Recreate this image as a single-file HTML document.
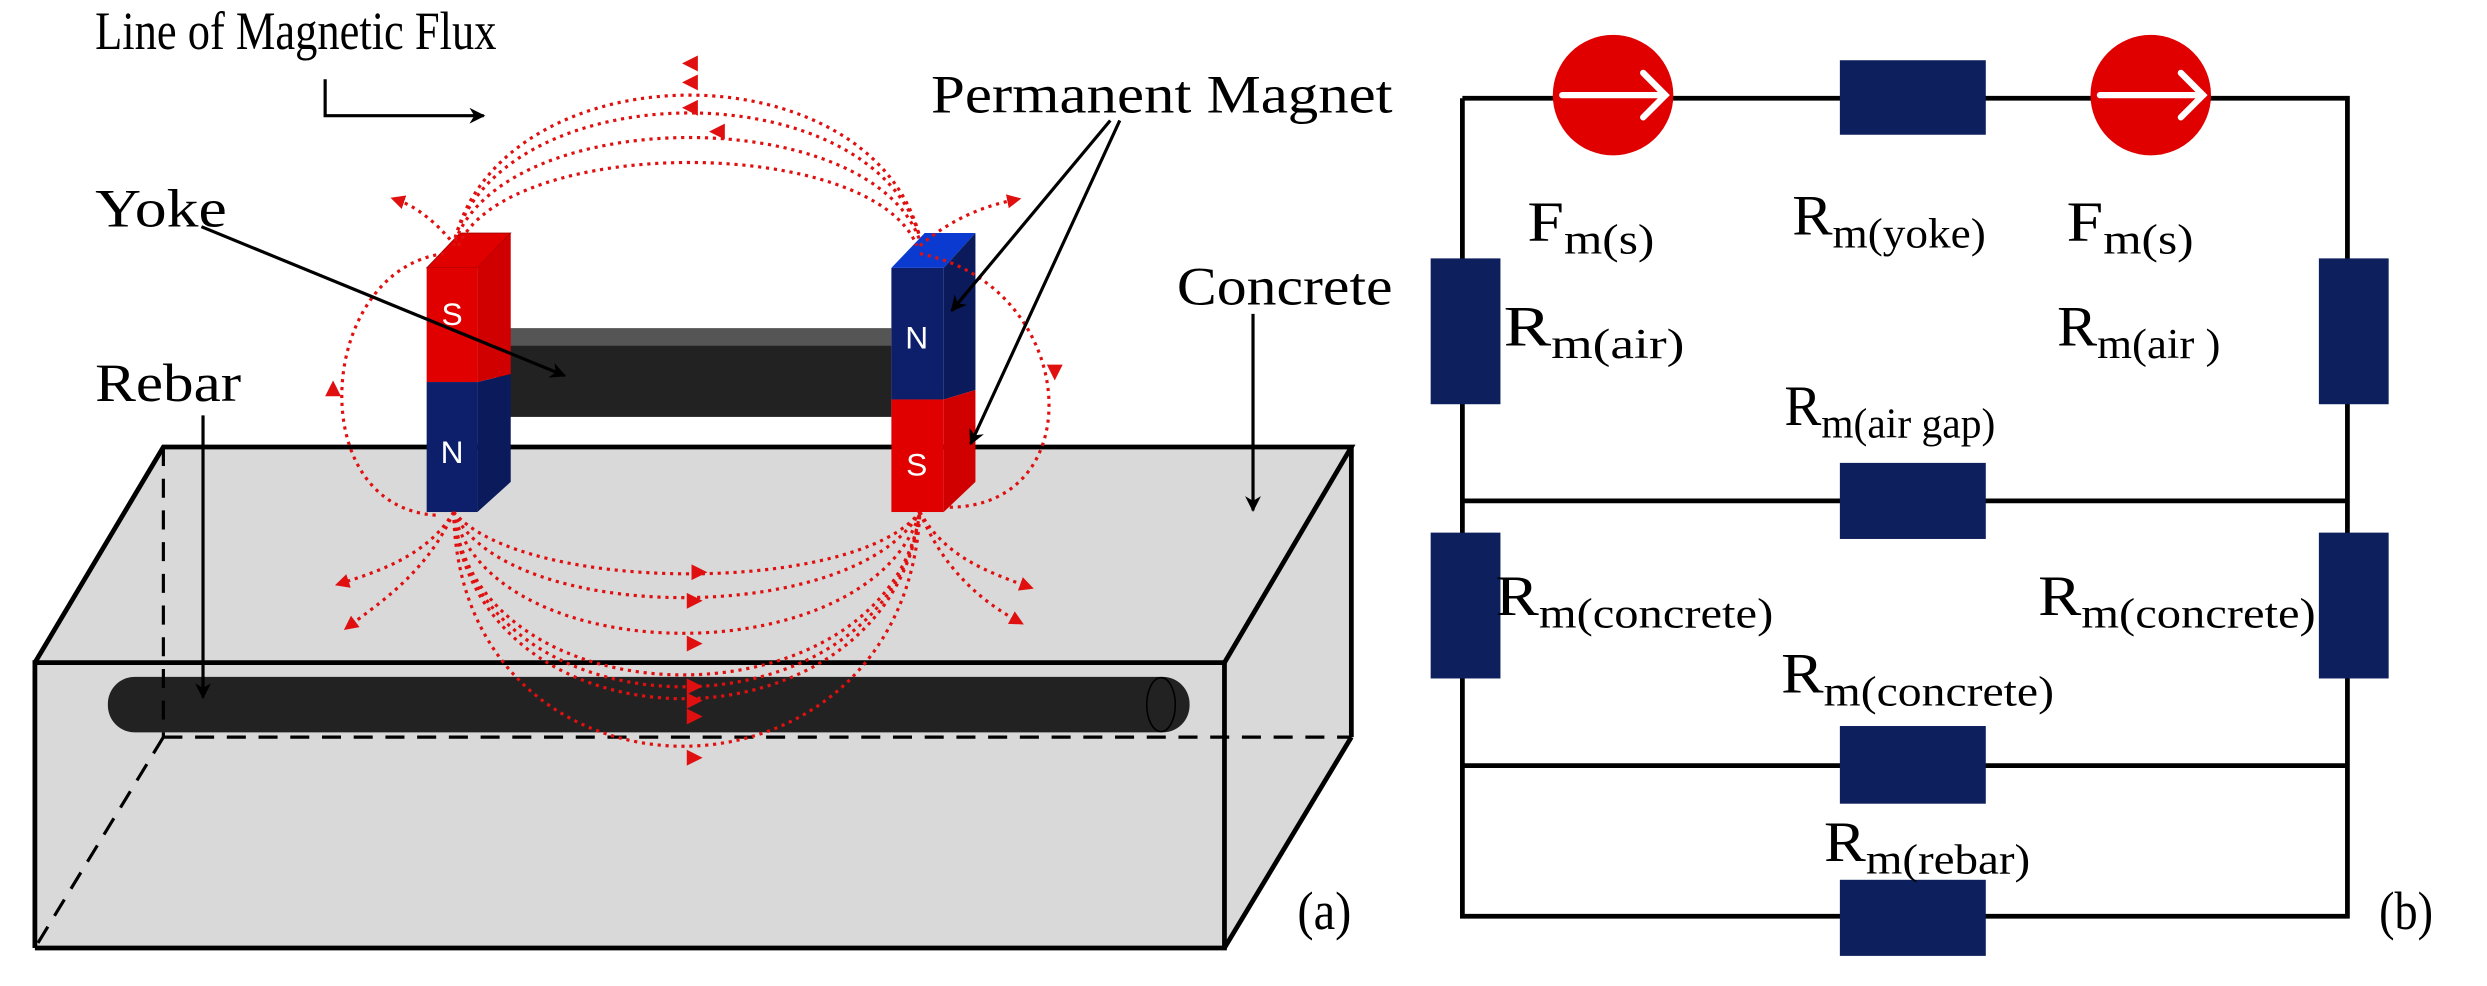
<!DOCTYPE html>
<html><head><meta charset="utf-8"><style>
html,body{margin:0;padding:0;background:#fff;}
svg{display:block;}
text{font-family:"Liberation Serif",serif;fill:#000;}
</style></head><body>
<svg width="2487" height="986" viewBox="0 0 1568 622" preserveAspectRatio="none" xmlns="http://www.w3.org/2000/svg">
<defs>
<marker id="ab" markerWidth="10" markerHeight="10" refX="9" refY="5" orient="auto" markerUnits="userSpaceOnUse"><path d="M0,0 L10,5 L0,10 L3,5 z" fill="#000"/></marker>
<marker id="ar" markerWidth="9" markerHeight="9" refX="5" refY="4.5" orient="auto" markerUnits="userSpaceOnUse"><path d="M0,0 L9,4.5 L0,9 z" fill="#e01010"/></marker>
</defs>
<!-- concrete box -->
<polygon points="22,418 103,282 852,282 852,465 772,598 22,598" fill="#d9d9d9"/>
<g stroke="#000" stroke-width="3" fill="none">
<polyline points="22,598 22,418 772,418 772,598 22,598"/>
<polyline points="22,418 103,282 852,282 772,418"/>
<line x1="852" y1="282" x2="852" y2="465"/>
<line x1="852" y1="465" x2="772" y2="598"/>
</g>
<!-- rebar -->
<rect x="68" y="427" width="682" height="35" rx="17" fill="#222"/>
<ellipse cx="732" cy="444.5" rx="9" ry="17" fill="none" stroke="#000" stroke-width="1"/>
<g stroke="#000" stroke-width="2" stroke-dasharray="12,8" fill="none">
<line x1="103" y1="282" x2="103" y2="465"/>
<line x1="103" y1="465" x2="852" y2="465"/>
<line x1="103" y1="465" x2="22" y2="598"/>
</g>
<!-- yoke -->
<polygon points="313,218 322,207 562,207 562,218" fill="#555"/>
<rect x="313" y="218" width="249" height="45" fill="#222"/>
<!-- left magnet -->
<polygon points="269,169 290,147 322,147 301,169" fill="#e00000" stroke="#900" stroke-width="0.5"/>
<polygon points="301,169 322,147 322,236 301,241" fill="#d00000"/>
<polygon points="301,241 322,236 322,304 301,323" fill="#0a1a5a"/>
<rect x="269" y="169" width="32" height="72" fill="#e00000"/>
<rect x="269" y="241" width="32" height="82" fill="#0d1f6a"/>
<text x="285" y="205" font-size="20" text-anchor="middle" style="fill:#fff;font-family:'Liberation Sans',sans-serif">S</text>
<text x="285" y="292" font-size="20" text-anchor="middle" style="fill:#fff;font-family:'Liberation Sans',sans-serif">N</text>
<!-- right magnet -->
<polygon points="562,169 583,147 615,147 595,169" fill="#0a3ad0"/>
<polygon points="595,169 615,147 615,246 595,252" fill="#0a1a5a"/>
<polygon points="595,252 615,246 615,304 595,323" fill="#d00000"/>
<rect x="562" y="169" width="33" height="83" fill="#0d1f6a"/>
<rect x="562" y="252" width="33" height="71" fill="#e00000"/>
<text x="578" y="220" font-size="20" text-anchor="middle" style="fill:#fff;font-family:'Liberation Sans',sans-serif">N</text>
<text x="578" y="300" font-size="20" text-anchor="middle" style="fill:#fff;font-family:'Liberation Sans',sans-serif">S</text>
<!-- flux lines -->
<g stroke="#e01010" stroke-width="2" stroke-dasharray="2,3" fill="none">
<path d="M287,150 C320,30 550,30 580,150"/>
<path d="M287,150 C320,45 550,45 580,150"/>
<path d="M287,152 C320,65 550,65 580,152"/>
<path d="M289,155 C320,85 550,85 578,155"/>
<path d="M280,160 C200,170 190,320 275,325"/>
<path d="M580,160 C680,180 690,320 598,320"/>
<path d="M286,323 C330,375 540,375 580,323"/>
<path d="M286,323 C320,395 540,395 580,323"/>
<path d="M286,323 C310,425 550,425 580,323"/>
<path d="M286,323 C300,460 560,460 580,323"/>
<path d="M286,323 C300,470 560,470 580,323"/>
<path d="M286,323 C300,480 560,480 580,323"/>
<path d="M286,323 C290,520 570,520 580,323"/>
<path d="M286,323 C270,350 240,360 215,368" marker-end="url(#ar)"/>
<path d="M286,323 C270,360 240,380 220,395" marker-end="url(#ar)"/>
<path d="M580,323 C595,350 620,360 648,370" marker-end="url(#ar)"/>
<path d="M580,323 C595,360 620,380 642,392" marker-end="url(#ar)"/>
<path d="M287,155 C275,140 262,130 250,126" marker-end="url(#ar)"/>
<path d="M580,155 C600,138 620,130 640,126" marker-end="url(#ar)"/>
</g>
<g fill="#e01010">
<path d="M430,40 l10,-5 v10 z"/><path d="M430,52 l10,-5 v10 z"/><path d="M430,68 l10,-5 v10 z"/><path d="M447,83 l10,-5 v10 z"/>
<path d="M210,240 l-5,10 h10 z"/><path d="M665,240 l-5,-10 h10 z"/>
<path d="M446,361 l-10,-5 v10 z"/><path d="M443,379 l-10,-5 v10 z"/><path d="M443,406 l-10,-5 v10 z"/>
<path d="M443,433 l-10,-5 v10 z"/><path d="M443,442 l-10,-5 v10 z"/><path d="M443,452 l-10,-5 v10 z"/><path d="M443,478 l-10,-5 v10 z"/>
</g>
<!-- labels a -->
<text x="60" y="31" font-size="34" textLength="253" lengthAdjust="spacingAndGlyphs">Line of Magnetic Flux</text>
<polyline points="205,50 205,73 305,73" fill="none" stroke="#000" stroke-width="2" marker-end="url(#ab)"/>
<text x="587" y="71" font-size="34" textLength="291" lengthAdjust="spacingAndGlyphs">Permanent Magnet</text>
<line x1="700" y1="76" x2="600" y2="196" stroke="#000" stroke-width="2" marker-end="url(#ab)"/>
<line x1="706" y1="76" x2="612" y2="280" stroke="#000" stroke-width="2" marker-end="url(#ab)"/>
<text x="60" y="143" font-size="34" textLength="83" lengthAdjust="spacingAndGlyphs">Yoke</text>
<line x1="127" y1="143" x2="356" y2="237" stroke="#000" stroke-width="2" marker-end="url(#ab)"/>
<text x="742" y="192" font-size="34" textLength="136" lengthAdjust="spacingAndGlyphs">Concrete</text>
<line x1="790" y1="198" x2="790" y2="322" stroke="#000" stroke-width="2" marker-end="url(#ab)"/>
<text x="60" y="253" font-size="34" textLength="92" lengthAdjust="spacingAndGlyphs">Rebar</text>
<line x1="128" y1="262" x2="128" y2="440" stroke="#000" stroke-width="2" marker-end="url(#ab)"/>
<text x="818" y="586" font-size="34" textLength="34" lengthAdjust="spacingAndGlyphs">(a)</text>
<!-- circuit -->
<g stroke="#000" stroke-width="3" fill="none">
<polyline points="922,62 922,578 1480,578 1480,62 922,62"/>
<line x1="922" y1="316" x2="1480" y2="316"/>
<line x1="922" y1="483" x2="1480" y2="483"/>
</g>
<g fill="#0d1f5c">
<rect x="1160" y="38" width="92" height="47"/>
<rect x="1160" y="292" width="92" height="48"/>
<rect x="1160" y="458" width="92" height="49"/>
<rect x="1160" y="555" width="92" height="48"/>
<rect x="902" y="163" width="44" height="92"/>
<rect x="902" y="336" width="44" height="92"/>
<rect x="1462" y="163" width="44" height="92"/>
<rect x="1462" y="336" width="44" height="92"/>
</g>
<circle cx="1017" cy="60" r="38" fill="#e00000"/>
<circle cx="1356" cy="60" r="38" fill="#e00000"/>
<g stroke="#fff" stroke-width="4" fill="none" stroke-linecap="round">
<line x1="985" y1="60" x2="1050" y2="60"/><polyline points="1036,46 1050,60 1036,74"/>
<line x1="1324" y1="60" x2="1389" y2="60"/><polyline points="1375,46 1389,60 1375,74"/>
</g>
<g font-size="36">
<text x="963" y="152" textLength="80" lengthAdjust="spacingAndGlyphs">F<tspan font-size="27" dy="8">m(s)</tspan></text>
<text x="1130" y="148" textLength="122" lengthAdjust="spacingAndGlyphs">R<tspan font-size="27" dy="8">m(yoke)</tspan></text>
<text x="1303" y="152" textLength="80" lengthAdjust="spacingAndGlyphs">F<tspan font-size="27" dy="8">m(s)</tspan></text>
<text x="948" y="218" textLength="114" lengthAdjust="spacingAndGlyphs">R<tspan font-size="27" dy="8">m(air)</tspan></text>
<text x="1297" y="218" textLength="103" lengthAdjust="spacingAndGlyphs">R<tspan font-size="27" dy="8">m(air )</tspan></text>
<text x="1125" y="268" textLength="133" lengthAdjust="spacingAndGlyphs">R<tspan font-size="27" dy="8">m(air gap)</tspan></text>
<text x="943" y="388" textLength="175" lengthAdjust="spacingAndGlyphs">R<tspan font-size="27" dy="8">m(concrete)</tspan></text>
<text x="1285" y="388" textLength="175" lengthAdjust="spacingAndGlyphs">R<tspan font-size="27" dy="8">m(concrete)</tspan></text>
<text x="1123" y="437" textLength="172" lengthAdjust="spacingAndGlyphs">R<tspan font-size="27" dy="8">m(concrete)</tspan></text>
<text x="1150" y="543" textLength="130" lengthAdjust="spacingAndGlyphs">R<tspan font-size="27" dy="8">m(rebar)</tspan></text>
</g>
<text x="1500" y="586" font-size="34" textLength="34" lengthAdjust="spacingAndGlyphs">(b)</text>
</svg>
</body></html>
